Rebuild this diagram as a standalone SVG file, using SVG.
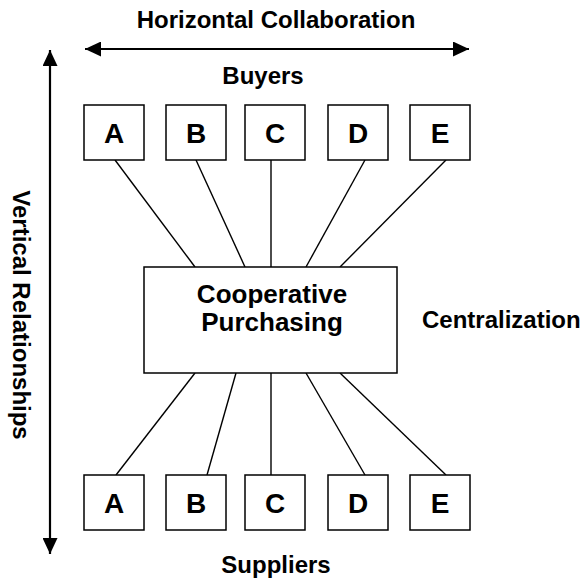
<svg xmlns="http://www.w3.org/2000/svg" width="585" height="580" viewBox="0 0 585 580">
  <style>
    text { font-family: "Liberation Sans", Arial, sans-serif; font-weight: bold; fill: #000; }
    .label { font-size: 24px; }
    .letter { font-size: 28px; text-anchor: middle; }
    .hub-text { font-size: 26px; text-anchor: middle; }
    .box { fill: #fff; stroke: #000; stroke-width: 1.5; }
    .link { stroke: #000; stroke-width: 1.4; fill: none; }
    .axis { stroke: #000; stroke-width: 2.2; fill: none; }
  </style>
  <defs>
    <marker id="head" viewBox="0 0 16 15" refX="16" refY="7.5" markerWidth="16" markerHeight="15" markerUnits="userSpaceOnUse" orient="auto-start-reverse">
      <path d="M0,0 L16,7.5 L0,15 Z" fill="#000"/>
    </marker>
  </defs>

  <!-- axes -->
  <g id="axes">
    <line class="axis" x1="85" y1="49" x2="469" y2="49" marker-start="url(#head)" marker-end="url(#head)"/>
    <line class="axis" x1="50" y1="50" x2="50" y2="554" marker-start="url(#head)" marker-end="url(#head)"/>
  </g>

  <!-- axis and tier labels -->
  <g id="labels">
    <text class="label" x="276" y="28" text-anchor="middle">Horizontal Collaboration</text>
    <text class="label" x="263" y="84" text-anchor="middle">Buyers</text>
    <text class="label" x="276" y="573" text-anchor="middle">Suppliers</text>
    <text class="label" x="422" y="328">Centralization</text>
    <text class="label" transform="translate(13,315) rotate(90)" text-anchor="middle">Vertical Relationships</text>
  </g>

  <!-- connectors -->
  <g id="connectors">
    <line class="link" x1="115" y1="160" x2="195" y2="267"/>
    <line class="link" x1="196" y1="160" x2="245" y2="267"/>
    <line class="link" x1="271" y1="160" x2="271" y2="267"/>
    <line class="link" x1="365" y1="160" x2="306" y2="267"/>
    <line class="link" x1="446" y1="160" x2="340" y2="267"/>
    <line class="link" x1="195" y1="373" x2="116" y2="475"/>
    <line class="link" x1="236" y1="373" x2="207" y2="475"/>
    <line class="link" x1="271" y1="373" x2="271" y2="475"/>
    <line class="link" x1="306" y1="373" x2="365" y2="475"/>
    <line class="link" x1="340" y1="373" x2="446" y2="475"/>
  </g>

  <!-- buyers -->
  <g id="buyer-a"><rect class="box" x="84" y="105" width="60" height="55"/><text class="letter" x="114" y="143">A</text></g>
  <g id="buyer-b"><rect class="box" x="166" y="105" width="60" height="55"/><text class="letter" x="196" y="143">B</text></g>
  <g id="buyer-c"><rect class="box" x="245" y="105" width="60" height="55"/><text class="letter" x="275" y="143">C</text></g>
  <g id="buyer-d"><rect class="box" x="328" y="105" width="60" height="55"/><text class="letter" x="358" y="143">D</text></g>
  <g id="buyer-e"><rect class="box" x="410" y="105" width="60" height="55"/><text class="letter" x="440" y="143">E</text></g>

  <!-- hub -->
  <g id="cooperative-purchasing">
    <rect class="box" x="144" y="267" width="253" height="106"/>
    <text class="hub-text" x="272" y="303">Cooperative</text>
    <text class="hub-text" x="272" y="331">Purchasing</text>
  </g>

  <!-- suppliers -->
  <g id="supplier-a"><rect class="box" x="84" y="475" width="60" height="55"/><text class="letter" x="114" y="513">A</text></g>
  <g id="supplier-b"><rect class="box" x="166" y="475" width="60" height="55"/><text class="letter" x="196" y="513">B</text></g>
  <g id="supplier-c"><rect class="box" x="245" y="475" width="60" height="55"/><text class="letter" x="275" y="513">C</text></g>
  <g id="supplier-d"><rect class="box" x="328" y="475" width="60" height="55"/><text class="letter" x="358" y="513">D</text></g>
  <g id="supplier-e"><rect class="box" x="410" y="475" width="60" height="55"/><text class="letter" x="440" y="513">E</text></g>
</svg>
